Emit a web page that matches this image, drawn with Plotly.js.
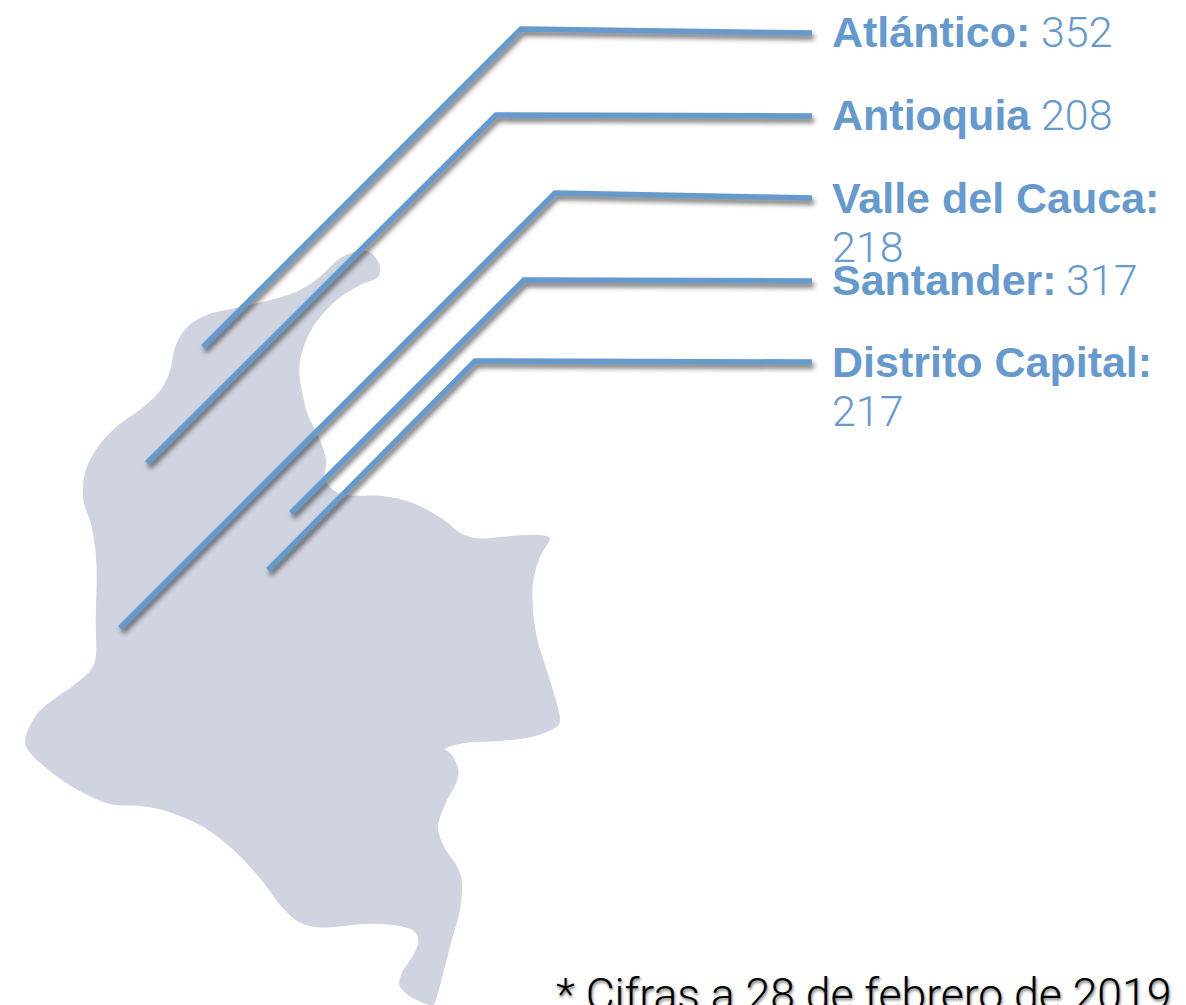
<!DOCTYPE html>
<html>
<head>
<meta charset="utf-8">
<script src="https://cdn.plot.ly/plotly-3.0.1.min.js"></script>
<style>
html,body{margin:0;padding:0;background:#fff;overflow:hidden}
#chart{width:1186px;height:1005px}
#chart .scatterlayer .trace:not(:first-child) path.js-line{filter:drop-shadow(2px 4px 2.5px rgba(0,0,0,.55))}
</style>
</head>
<body>
<div id="chart"></div>
<script>
const departments = ["Atlántico:", "Antioquia", "Valle del Cauca:", "Santander:", "Distrito Capital:"];
const counts = [352, 208, 218, 317, 217];
const footnote = "* Cifras a 28 de febrero de 2019";

const mapX = [360,371.7,380,378.3,360,336.7,313,301.7,299.3,302,308,320,326,325,333,346,382.7,413,444,460,476.7,503,530,544,550,547,540,533.3,532.7,536.7,546.7,556.7,560,556.7,533,503,466.7,450,445,449,453,458.3,457.3,445.8,438,444,457.3,461.7,460,451.7,443.3,436.7,433.3,423,408,399.3,401.7,413.3,418.3,415,403.3,380,363.6,317.6,298.5,283,260,233.4,203,168.4,141.6,111,84,57.4,30.6,25,37,54,76.5,92,95.7,95.7,96.4,91.8,83.4,85,95.7,114.8,141.6,160.7,170.3,175.3,187.5,206.7,229.6,270,296.7,320,340,360];
const mapY = [250.7,253.3,266.7,276.7,285,300,326.7,353.3,373.3,392,415,440,460,478,490,495,496,503,520,532.7,538.3,536.7,534.7,535.5,538.3,545,556.7,580,603.3,636.7,670,703.3,721.7,726.7,736.7,740.7,742.7,746.5,749.3,752,756.7,770,780,803,826.7,846.7,866.7,880,910,940,973.3,996.7,1005,1002.7,995,985,973.3,955,941.7,931.7,926.7,924,924,927.3,921.7,908.3,878.3,850,826.7,811.7,806,804.3,793.3,776.7,753.3,741.7,714,699,683.3,668.3,656.7,620,563.3,526.7,500,473,450,428.3,408.3,390,370,346.7,326.7,315,309.3,300,291.7,276.7,258.3,250.7];

const leaderAtlanticoX = [203,521,812], leaderAtlanticoY = [347,29,33];
const leaderAntioquiaX = [147,496,812], leaderAntioquiaY = [463,115,116];
const leaderValleX = [120,555,812], leaderValleY = [628,193,198];
const leaderSantanderX = [291,524,812], leaderSantanderY = [513,280,281];
const leaderDistritoX = [268,475,812], leaderDistritoY = [570,361,362];

const LINE = "#6699cc";
const leaders = [
  [leaderAtlanticoX, leaderAtlanticoY],
  [leaderAntioquiaX, leaderAntioquiaY],
  [leaderValleX, leaderValleY],
  [leaderSantanderX, leaderSantanderY],
  [leaderDistritoX, leaderDistritoY]
];

const traces = [{
  x: mapX, y: mapY, mode: "lines", fill: "toself", fillcolor: "#d0d4e0",
  line: {color: "rgba(0,0,0,0)", width: 0, shape: "spline", smoothing: 1},
  hoverinfo: "skip", showlegend: false
}].concat(leaders.map(([x, y]) => ({
  x, y, mode: "lines", line: {color: LINE, width: 5.5},
  hoverinfo: "skip", showlegend: false
})));

const nameY = [32, 115, 198, 280, 362];
const valueX = [1040, 1040, 831, 1065, 831];
const valueY = [32, 115, 247, 280, 411];

const annotations = [];
departments.forEach((d, i) => {
  annotations.push({
    x: 831, y: nameY[i], xref: "x", yref: "y", xanchor: "left", yanchor: "middle",
    text: d, showarrow: false, borderpad: 0,
    font: {family: "Liberation Sans", size: 43, weight: 700, color: LINE}
  });
  annotations.push({
    x: valueX[i], y: valueY[i], xref: "x", yref: "y", xanchor: "left", yanchor: "middle",
    text: String(counts[i]), showarrow: false, borderpad: 0,
    font: {family: "Roboto", size: 43, weight: 300, color: LINE}
  });
});
annotations.push({
  x: 555, y: 995, xref: "x", yref: "y", xanchor: "left", yanchor: "middle",
  text: footnote, showarrow: false, borderpad: 0,
  font: {family: "Roboto", size: 44.5, weight: 300, color: "#000", shadow: "1px 2px 3px rgba(0,0,0,.55)"}
});

Plotly.newPlot("chart", traces, {
  width: 1186, height: 1005,
  margin: {l: 0, r: 0, t: 0, b: 0},
  paper_bgcolor: "#fff", plot_bgcolor: "#fff",
  showlegend: false, hovermode: false,
  xaxis: {range: [0, 1186], visible: false, fixedrange: true},
  yaxis: {range: [1005, 0], visible: false, fixedrange: true},
  annotations
}, {displayModeBar: false, staticPlot: true});
</script>
</body>
</html>
